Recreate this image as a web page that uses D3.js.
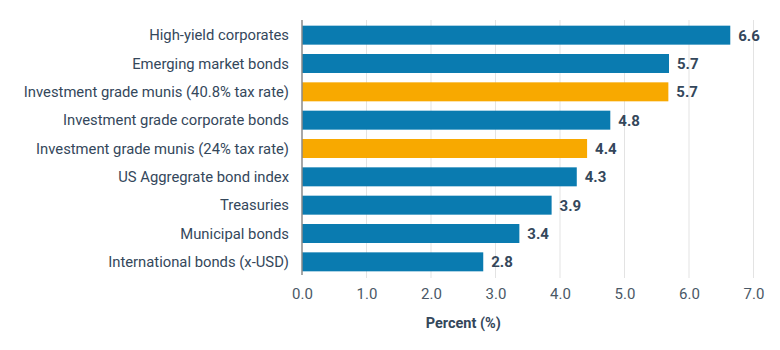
<!DOCTYPE html>
<html>
<head>
<meta charset="utf-8">
<script src="https://cdn.jsdelivr.net/npm/d3@7"></script>
<style>
  body { margin: 0; background: #fff; }
  svg text { font-family: Roboto, "Noto Sans", sans-serif; }
</style>
</head>
<body>
<div id="chart"></div>
<script>
'use strict';

const categories = [
  'High-yield corporates',
  'Emerging market bonds',
  'Investment grade munis (40.8% tax rate)',
  'Investment grade corporate bonds',
  'Investment grade munis (24% tax rate)',
  'US Aggregrate bond index',
  'Treasuries',
  'Municipal bonds',
  'International bonds (x-USD)'
]
const yields = [6.64, 5.69, 5.68, 4.78, 4.42, 4.26, 3.87, 3.37, 2.81]
const highlighted = [false, false, true, false, true, false, false, false, false]
const x_ticks = [0, 1, 2, 3, 4, 5, 6, 7]

const dims = {
  width: 780,
  height: 350,
  left: 302,
  right: 753.5,
  top: 20,
  bottom: 277
}

const blue = '#0a7bb0'
const orange = '#f8a900'
const text_col = '#34475b'

const svg = d3.select('#chart')
  .append('svg')
  .attr('width', dims.width)
  .attr('height', dims.height)

const xScale = d3.scaleLinear()
  .domain([0, 7])
  .range([dims.left, dims.right])

const yScale = d3.scaleBand()
  .domain(categories)
  .range([dims.top, dims.bottom])
  .paddingInner(0.33)
  .paddingOuter(0.2)

// gridlines
svg.append('g')
  .selectAll('line')
  .data(x_ticks.slice(1))
  .join('line')
  .attr('x1', d => xScale(d))
  .attr('x2', d => xScale(d))
  .attr('y1', dims.top)
  .attr('y2', dims.bottom + 1)
  .attr('stroke', '#e3e3e3')
  .attr('stroke-width', 1)

// x axis labels
const xAxis = d3.axisBottom(xScale)
  .tickValues(x_ticks)
  .tickFormat(d3.format('.1f'))
  .tickSize(0)
  .tickPadding(11)
const xAxisGroup = svg.append('g')
  .attr('transform', `translate(0, ${dims.bottom})`)
  .call(xAxis)
xAxisGroup.select('.domain').remove()
xAxisGroup.selectAll('text')
  .style('font-size', '15px')
  .style('fill', '#4a5866')

// axis title
svg.append('text')
  .attr('x', xScale(2.5))
  .attr('y', 328)
  .attr('text-anchor', 'middle')
  .style('font-size', '14.5px')
  .style('font-weight', 'bold')
  .style('fill', text_col)
  .text('Percent (%)')

// bars
svg.append('g')
  .selectAll('rect')
  .data(yields)
  .join('rect')
  .attr('x', xScale(0))
  .attr('y', (d, i) => yScale(categories[i]))
  .attr('width', d => xScale(d) - xScale(0))
  .attr('height', yScale.bandwidth())
  .attr('fill', (d, i) => highlighted[i] ? orange : blue)

// value labels
svg.append('g')
  .selectAll('text')
  .data(yields)
  .join('text')
  .attr('x', d => xScale(d) + 8)
  .attr('y', (d, i) => yScale(categories[i]) + yScale.bandwidth() / 2)
  .attr('dy', '0.36em')
  .style('font-size', '15px')
  .style('font-weight', 'bold')
  .style('fill', text_col)
  .text(d => d3.format('.1f')(d))

// category labels
svg.append('g')
  .selectAll('text')
  .data(categories)
  .join('text')
  .attr('x', dims.left - 13)
  .attr('y', d => yScale(d) + yScale.bandwidth() / 2)
  .attr('dy', '0.35em')
  .attr('text-anchor', 'end')
  .style('font-size', '14.8px')
  .style('fill', text_col)
  .text(d => d)

// zero axis line
svg.append('line')
  .attr('x1', xScale(0))
  .attr('x2', xScale(0))
  .attr('y1', dims.top)
  .attr('y2', dims.bottom - 2)
  .attr('stroke', '#8a8a8a')
  .attr('stroke-width', 1.5)
</script>
</body>
</html>
